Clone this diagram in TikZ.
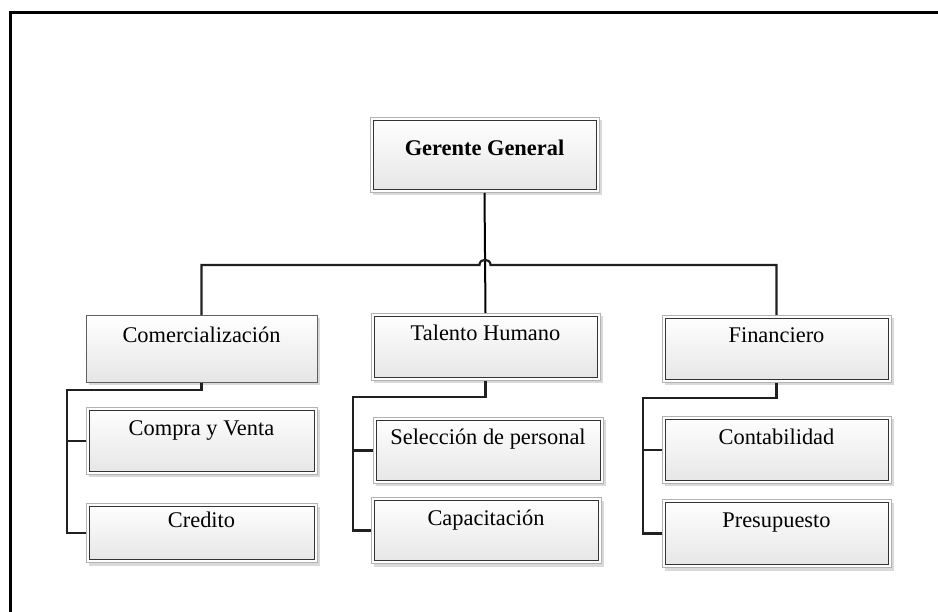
\documentclass[tikz,border=0pt]{standalone}
\usepackage{fontspec}
\setmainfont{Liberation Serif}
\usetikzlibrary{calc,shadows}
\tikzset{
  box/.style={draw=gray!75!black, line width=1pt, top color=white, bottom color=gray!20,
    anchor=north, inner sep=0pt, align=center,
    font=\fontsize{22.4}{26}\selectfont,
    drop shadow={shadow xshift=3pt, shadow yshift=-3pt, fill=gray!30, opacity=1}},
  dbl/.style={box, draw=gray!60, line width=1pt,
    path picture={
      \draw[white, line width=5pt] (path picture bounding box.south west) rectangle (path picture bounding box.north east);
      \draw[gray!40!black, line width=1pt]
        ([shift={(3pt,3pt)}]path picture bounding box.south west) rectangle
        ([shift={(-3pt,-3pt)}]path picture bounding box.north east);}},
  conn/.style={draw=gray!25!black, line width=2.2pt},
  trunk/.style={draw=black, line width=2pt},
  frameline/.style={draw=black, line width=3pt},
}
\begin{document}
\begin{tikzpicture}[x=1pt, y=-1pt]
\useasboundingbox (0,0) rectangle (938,612);
\clip (0,0) rectangle (938,612);
\draw[frameline] (10,612) -- (10,13) -- (938,13);

% level 0
\node[dbl, minimum width=229pt, minimum height=75pt, text height=38pt, text depth=37pt,
  font=\fontsize{22.4}{26}\selectfont\bfseries] (gg) at (484.5,117) {Gerente General};

% level 1
\node[box, minimum width=231pt, minimum height=67pt, text height=27pt, text depth=40pt] (comm) at (201.5,315) {Comercialización};
\node[dbl, minimum width=229pt, minimum height=67pt, text height=27pt, text depth=40pt] (tal) at (485.5,313) {Talento Humano};
\node[dbl, minimum width=229pt, minimum height=67pt, text height=27pt, text depth=40pt] (fin) at (776.5,315) {Financiero};

% level 2
\node[dbl, minimum width=231pt, minimum height=67pt, text height=28pt, text depth=39pt] (cyv) at (201.5,407) {Compra y Venta};
\node[dbl, minimum width=231pt, minimum height=59pt, text height=24pt, text depth=35pt] (cred) at (201.5,503) {Credito};
\node[dbl, minimum width=230pt, minimum height=66pt, text height=27pt, text depth=39pt] (sel) at (488,417) {Selección de personal};
\node[dbl, minimum width=230pt, minimum height=66pt, text height=28pt, text depth=38pt] (cap) at (486,497) {Capacitación};
\node[dbl, minimum width=229pt, minimum height=67pt, text height=28pt, text depth=39pt] (cont) at (776.5,416) {Contabilidad};
\node[dbl, minimum width=229pt, minimum height=68pt, text height=28pt, text depth=40pt] (pres) at (776.5,499) {Presupuesto};

% connectors
\coordinate (bus) at (485,265);
\draw[trunk] (gg.south) -- (tal.north);
\draw[conn] (comm.north) |- ($(bus)+(-5.5,0)$)
  .. controls ($(bus)+(-5.5,-7)$) and ($(bus)+(5.5,-7)$) .. ($(bus)+(5.5,0)$) -| (fin.north);

\coordinate (ct) at (67,390);
\draw[conn] (comm.south) |- (ct) |- (cred.west);
\draw[conn] (ct |- cyv.west) -- (cyv.west);

\coordinate (tt) at (353,397);
\draw[conn] (tal.south) |- (tt) |- (cap.west);
\draw[conn] (tt |- sel.west) -- (sel.west);

\coordinate (ft) at (643,398);
\draw[conn] (fin.south) |- (ft) |- (pres.west);
\draw[conn] (ft |- cont.west) -- (cont.west);
\end{tikzpicture}
\end{document}
